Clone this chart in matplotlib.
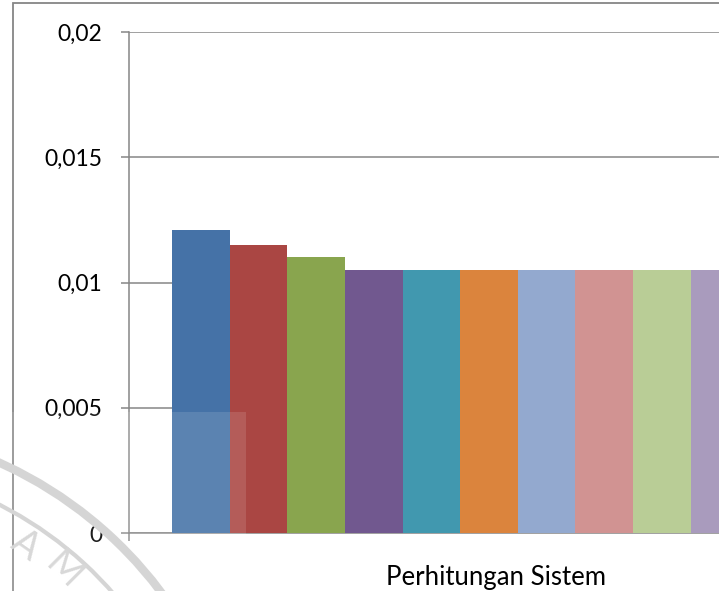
import matplotlib.pyplot as plt
from matplotlib.patches import Rectangle, Arc
from matplotlib.ticker import FuncFormatter

plt.rcParams["font.family"] = ["Lato", "DejaVu Sans"]

kategori = "Perhitungan Sistem"
nilai = [0.0121, 0.0115, 0.0110, 0.0105, 0.0105, 0.0105, 0.0105, 0.0105, 0.0105, 0.0105]
warna = ["#4572A7", "#AA4643", "#89A54E", "#71588F", "#4198AF",
         "#DB843D", "#93A9CF", "#D19392", "#B9CD96", "#A99BBD"]
yticks = [0, 0.005, 0.01, 0.015, 0.02]

abu = "#868686"
W, H = 719, 591
fig = plt.figure(figsize=(W / 100, H / 100), dpi=100)

# plot area runs past the right edge of the image (chart is cut off there)
ax = fig.add_axes([129 / W, 58 / H, 734 / W, 501 / H])
lebar = 1.0
gap = 0.75
xmax = 734 / 57.6
for i, (v, c) in enumerate(zip(nilai, warna)):
    ax.bar(gap + i * lebar, v, width=lebar, align="edge", color=c, zorder=3)

ax.set_xlim(0, xmax)
ax.set_ylim(0, 0.02)
ax.set_yticks(yticks)
ax.yaxis.set_major_formatter(FuncFormatter(
    lambda v, p: "0" if v == 0 else ("%g" % v).replace(".", ",")))
ax.set_xticks([xmax / 2], [kategori])
ax.set_xticks([0], minor=True)

ax.grid(axis="y", color=abu, linewidth=1.1, zorder=0)
for s in ["top", "right"]:
    ax.spines[s].set_visible(False)
for s in ["left", "bottom"]:
    ax.spines[s].set_color(abu)
    ax.spines[s].set_linewidth(1.1)

ax.tick_params(axis="y", length=6, width=1.1, color=abu, pad=13,
               labelsize=16.5, labelcolor="black")
ax.tick_params(axis="x", which="major", length=0, pad=23, labelsize=18.5)
ax.tick_params(axis="x", which="minor", length=6, width=1.1, color=abu)

# outer chart border (left and top edges visible)
fig.add_artist(Rectangle((13 / W, -0.1), 2, 1.1 - 3 / H,
                         transform=fig.transFigure, fill=False,
                         edgecolor=abu, linewidth=1.3))

# faint seal in the lower left corner, drawn in pixel space
wm = fig.add_axes([0, 0, 1, 1], zorder=5)
wm.set_xlim(0, W)
wm.set_ylim(0, H)
wm.axis("off")
wm.patch.set_alpha(0)
cx, cy = -171, H - 841
for r, lw in [(415, 6), (377, 3)]:
    wm.add_patch(Arc((cx, cy), 2 * r, 2 * r, theta1=20, theta2=75,
                     color="#d0d0d0", linewidth=lw))
for ch, x, y, rot in [("A", 26, 545, -35), ("M", 64, 570, -45)]:
    wm.text(x, H - y, ch, rotation=rot, fontsize=27, color="#d8d8d8",
            ha="center", va="center")
wm.add_patch(Rectangle((0, 0), 246, H - 412, facecolor="white",
                       alpha=0.12, edgecolor="none"))

fig.savefig("out.png", dpi=100)
